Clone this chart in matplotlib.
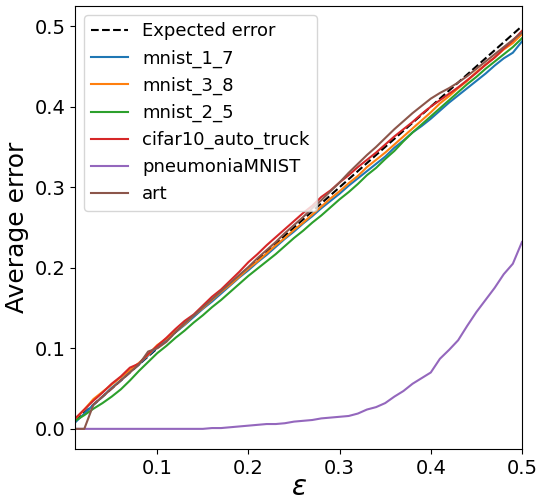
import numpy as np
import matplotlib.pyplot as plt

eps = np.round(np.arange(1, 51) * 0.01, 2)

mnist_1_7 = [0.008, 0.019, 0.030, 0.040, 0.051, 0.060, 0.071, 0.080, 0.091, 0.101,
             0.110, 0.120, 0.129, 0.139, 0.149, 0.158, 0.168, 0.178, 0.188, 0.197,
             0.207, 0.216, 0.226, 0.236, 0.245, 0.255, 0.264, 0.274, 0.283, 0.292,
             0.302, 0.311, 0.320, 0.329, 0.338, 0.349, 0.358, 0.368, 0.376, 0.385,
             0.395, 0.405, 0.414, 0.423, 0.432, 0.441, 0.451, 0.460, 0.467, 0.481]
mnist_3_8 = [0.012, 0.024, 0.037, 0.046, 0.055, 0.064, 0.073, 0.082, 0.092, 0.104,
             0.112, 0.121, 0.130, 0.141, 0.150, 0.160, 0.170, 0.179, 0.189, 0.199,
             0.208, 0.218, 0.228, 0.237, 0.247, 0.256, 0.266, 0.276, 0.286, 0.295,
             0.305, 0.314, 0.325, 0.334, 0.343, 0.353, 0.363, 0.373, 0.383, 0.393,
             0.404, 0.413, 0.423, 0.432, 0.443, 0.452, 0.461, 0.471, 0.479, 0.490]
mnist_2_5 = [0.010, 0.017, 0.025, 0.032, 0.040, 0.049, 0.060, 0.072, 0.083, 0.094,
             0.103, 0.113, 0.122, 0.132, 0.141, 0.151, 0.160, 0.170, 0.180, 0.190,
             0.199, 0.208, 0.217, 0.227, 0.237, 0.246, 0.256, 0.265, 0.275, 0.285,
             0.294, 0.304, 0.315, 0.324, 0.335, 0.345, 0.357, 0.368, 0.378, 0.388,
             0.398, 0.408, 0.418, 0.428, 0.437, 0.447, 0.456, 0.465, 0.474, 0.485]
cifar10 = [0.013, 0.024, 0.035, 0.045, 0.056, 0.065, 0.076, 0.081, 0.093, 0.103,
           0.113, 0.124, 0.134, 0.142, 0.153, 0.164, 0.173, 0.184, 0.195, 0.207,
           0.217, 0.228, 0.238, 0.248, 0.258, 0.268, 0.277, 0.288, 0.296, 0.306,
           0.315, 0.325, 0.334, 0.343, 0.353, 0.363, 0.372, 0.381, 0.391, 0.400,
           0.408, 0.416, 0.424, 0.433, 0.442, 0.452, 0.461, 0.472, 0.482, 0.494]
pneumonia = [0.0, 0.0, 0.0, 0.0, 0.0, 0.0, 0.0, 0.0, 0.0, 0.0,
             0.0, 0.0, 0.0, 0.0, 0.0, 0.001, 0.001, 0.002, 0.003, 0.004,
             0.005, 0.006, 0.006, 0.007, 0.009, 0.010, 0.011, 0.013, 0.014, 0.015,
             0.016, 0.019, 0.024, 0.027, 0.032, 0.040, 0.047, 0.056, 0.063, 0.070,
             0.087, 0.098, 0.110, 0.128, 0.145, 0.160, 0.175, 0.192, 0.205, 0.232]
art = [0.0, 0.0, 0.030, 0.040, 0.050, 0.060, 0.070, 0.080, 0.096, 0.100,
       0.108, 0.120, 0.131, 0.141, 0.151, 0.161, 0.171, 0.181, 0.191, 0.201,
       0.212, 0.222, 0.232, 0.243, 0.253, 0.263, 0.274, 0.284, 0.295, 0.306,
       0.318, 0.329, 0.340, 0.350, 0.361, 0.372, 0.382, 0.392, 0.401, 0.410,
       0.417, 0.423, 0.430, 0.438, 0.447, 0.456, 0.465, 0.474, 0.483, 0.492]

series = [("mnist_1_7", mnist_1_7), ("mnist_3_8", mnist_3_8), ("mnist_2_5", mnist_2_5),
          ("cifar10_auto_truck", cifar10), ("pneumoniaMNIST", pneumonia), ("art", art)]

fig, ax = plt.subplots(figsize=(5.37, 5.0), dpi=100)
fig.subplots_adjust(left=0.14, right=0.972, bottom=0.102, top=0.988)

ax.plot(eps, eps, 'k--', label='Expected error')
for name, vals in series:
    ax.plot(eps, vals, label=name)

ax.set_xlim(0.01, 0.5)
ax.set_xlabel(r'$\varepsilon$', fontsize=20)
ax.xaxis.set_label_coords(0.5, -0.055)
ax.set_ylabel('Average error', fontsize=18)
ax.tick_params(labelsize=14)
ax.legend(fontsize=13, loc='upper left')

fig.savefig('out.png')
